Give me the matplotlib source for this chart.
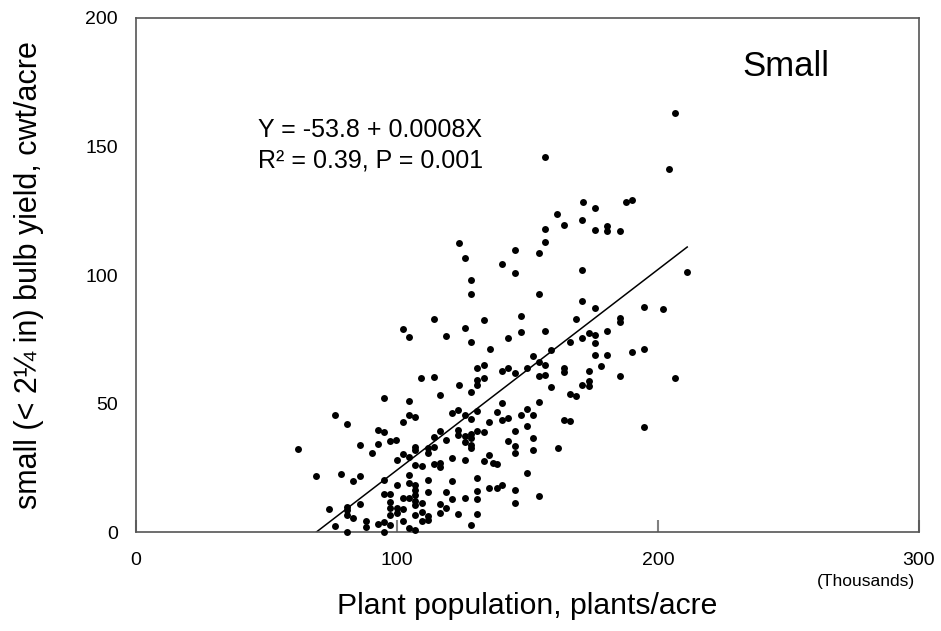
import matplotlib
matplotlib.use('Agg')
import matplotlib.pyplot as plt
import numpy as np

plt.rcParams['font.family'] = ['Liberation Sans', 'DejaVu Sans']

# plant population (thousands of plants/acre)
population = [
    206.6, 156.8, 204.2, 171.1, 175.7, 161.4, 187.6, 190.0, 156.8, 163.9,
    170.9, 175.7, 180.6, 180.6, 185.3, 156.8, 123.8, 145.1, 154.3, 126.1,
    128.3, 128.3, 114.1, 133.2, 102.3, 104.7, 118.9, 126.1, 128.3, 135.5,
    130.8, 133.2, 109.3, 114.1, 130.8, 133.2, 123.6, 130.8, 116.5, 128.3,
    140.2, 145.1, 171.0, 154.3, 171.0, 175.7, 147.4, 168.6, 147.4, 156.8,
    142.5, 171.0, 173.4, 175.7, 175.7, 166.3, 159.1, 152.1, 175.7, 140.2,
    142.5, 145.1, 149.8, 154.3, 156.8, 154.3, 156.8, 163.9, 163.9, 173.4,
    178.0, 159.1, 171.0, 173.4, 173.4, 166.3, 168.6, 211.2, 194.7, 201.8,
    185.3, 185.3, 180.6, 180.6, 190.0, 194.7, 185.3, 206.6, 194.7, 140.2,
    154.5, 138.2, 149.8, 147.4, 152.1, 140.2, 142.5, 163.9, 166.3, 149.8,
    145.1, 142.5, 152.1, 145.1, 145.1, 152.1, 161.6, 138.2, 149.8, 140.2,
    138.2, 145.1, 154.5, 145.1, 95.1, 76.2, 81.0, 92.7, 95.1, 97.4,
    62.1, 85.7, 92.7, 90.4, 69.1, 78.5, 83.3, 85.7, 95.1, 95.1,
    97.4, 85.7, 73.8, 81.0, 81.0, 81.0, 83.3, 88.0, 88.0, 76.2,
    92.7, 95.1, 81.0, 95.1, 104.7, 104.7, 106.9, 102.3, 121.2, 123.5,
    126.1, 128.3, 130.8, 135.4, 116.5, 114.1, 118.9, 123.5, 123.5, 126.1,
    128.3, 130.8, 133.2, 126.1, 128.3, 128.3, 128.3, 99.8, 106.9, 106.9,
    114.1, 111.8, 111.8, 102.3, 104.7, 99.9, 106.9, 109.5, 114.1, 116.5,
    116.5, 121.2, 126.1, 133.2, 135.4, 136.9, 104.7, 99.9, 104.7, 106.9,
    106.9, 106.9, 111.8, 121.2, 130.8, 102.3, 104.7, 111.8, 118.9, 130.8,
    135.4, 121.2, 126.1, 130.8, 97.3, 97.3, 109.5, 106.9, 106.9, 99.9,
    102.3, 97.3, 99.9, 116.5, 116.5, 118.9, 109.5, 109.5, 111.8, 111.8,
    106.9, 123.5, 130.8, 102.3, 97.3, 104.7, 106.9, 128.3,
]

# small bulb yield (cwt/acre), same order
small_yield = [
    163.0, 146.1, 141.1, 128.6, 126.3, 123.9, 128.6, 129.2, 118.1, 119.6,
    121.5, 117.7, 119.3, 117.2, 117.1, 112.8, 112.4, 109.6, 108.6, 106.8,
    98.2, 92.6, 82.9, 82.5, 79.1, 76.1, 76.3, 79.6, 73.9, 71.4,
    63.8, 65.2, 60.0, 60.4, 59.4, 60.0, 57.2, 57.2, 53.4, 54.7,
    104.3, 101.0, 101.9, 92.5, 90.0, 87.3, 84.3, 82.9, 77.7, 78.2,
    75.6, 75.7, 77.4, 76.7, 73.8, 73.9, 70.7, 68.5, 69.0, 62.9,
    63.8, 61.9, 63.8, 66.3, 65.2, 60.9, 61.3, 63.9, 62.4, 62.9,
    64.7, 56.4, 57.4, 59.0, 56.9, 53.8, 53.0, 101.4, 87.7, 86.8,
    83.5, 81.9, 78.2, 69.0, 70.0, 71.4, 60.9, 60.0, 40.9, 50.3,
    50.6, 46.7, 48.0, 45.6, 45.6, 43.7, 44.6, 43.8, 43.3, 41.2,
    39.5, 35.6, 36.6, 33.7, 30.9, 31.9, 32.8, 26.5, 23.2, 18.5,
    17.4, 16.5, 14.2, 11.3, 52.1, 45.6, 42.3, 39.7, 38.9, 35.6,
    32.4, 34.0, 34.2, 31.0, 21.9, 22.7, 19.8, 21.9, 20.4, 14.8,
    14.8, 10.9, 8.9, 9.7, 8.7, 6.7, 5.4, 4.4, 2.2, 2.5,
    3.3, 4.0, 0.0, 0.0, 51.2, 45.6, 45.0, 42.9, 46.5, 47.6,
    45.6, 44.0, 47.2, 43.0, 39.5, 37.1, 35.8, 39.8, 37.9, 37.6,
    38.2, 39.5, 39.0, 35.0, 36.6, 34.0, 32.7, 35.9, 33.3, 32.0,
    33.3, 32.7, 30.7, 30.4, 29.4, 28.1, 26.2, 25.9, 26.6, 26.8,
    25.5, 28.8, 28.1, 27.6, 30.1, 26.8, 22.3, 18.4, 19.1, 18.4,
    16.5, 14.5, 20.4, 20.0, 21.2, 13.5, 13.5, 15.8, 15.8, 16.1,
    17.1, 12.8, 13.2, 12.8, 11.9, 9.3, 11.3, 12.2, 10.6, 9.3,
    8.9, 6.7, 7.4, 10.9, 7.4, 9.3, 8.0, 4.4, 6.5, 4.8,
    6.7, 7.1, 7.1, 4.4, 2.8, 1.6, 0.9, 2.8,
]

# regression line as drawn (yield vs thousands of plants)
fit_intercept = -53.8
fit_slope = 0.78

x_ticks = [0, 100, 200, 300]
y_ticks = [0, 50, 100, 150, 200]

fig = plt.figure(figsize=(9.41, 6.31), dpi=100)
ax = fig.add_axes([0.1445, 0.1564, 0.8321, 0.8151])

ax.scatter(population, small_yield, s=25, c='black', linewidths=0, clip_on=False, zorder=3)

line_x = np.array([-fit_intercept / fit_slope, max(population)])
ax.plot(line_x, fit_intercept + fit_slope * line_x, color='black', lw=1.1)

ax.set_xlim(0, 300)
ax.set_ylim(0, 200)
ax.set_xticks(x_ticks)
ax.set_yticks(y_ticks)
ax.tick_params(axis='x', direction='in', length=9, width=1.5, color='#808080', pad=14, labelsize=14)
ax.tick_params(axis='y', length=0, pad=13, labelsize=14)
for sp in ax.spines.values():
    sp.set_color('#555555')
    sp.set_linewidth(1.2)

ax.set_xlabel('Plant population, plants/acre', fontsize=21.7, labelpad=17)
ax.set_ylabel('small (< 2\u00bc in) bulb yield, cwt/acre', fontsize=22, labelpad=30)

ax.text(46.7, 156.5, 'Y = -53.8 + 0.0008X', fontsize=18, va='center')
ax.text(46.7, 144.5, 'R\u00b2 = 0.39, P = 0.001', fontsize=18, va='center')
ax.text(0.775, 0.905, 'Small', transform=ax.transAxes, fontsize=25, va='center')
fig.text(0.972, 0.079, '(Thousands)', fontsize=12.5, ha='right', va='center')

fig.savefig('out.png', dpi=100)
